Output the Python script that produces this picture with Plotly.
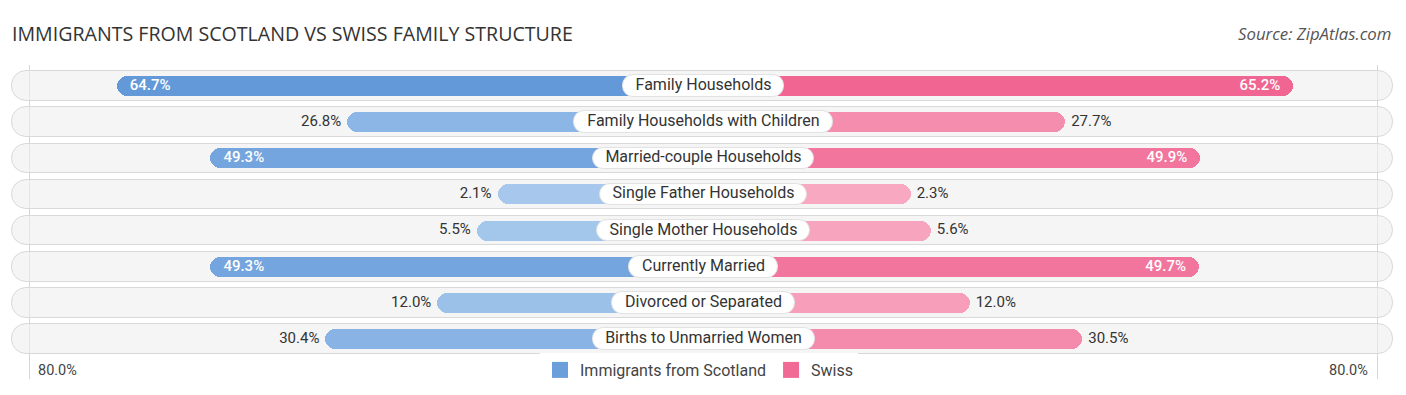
import plotly.graph_objects as go

categories = ["Family Households", "Family Households with Children", "Married-couple Households",
              "Single Father Households", "Single Mother Households", "Currently Married",
              "Divorced or Separated", "Births to Unmarried Women"]
scotland = [64.7, 26.8, 49.3, 2.1, 5.5, 49.3, 12.0, 30.4]
swiss = [65.2, 27.7, 49.9, 2.3, 5.6, 49.7, 12.0, 30.5]
series_names = ["Immigrants from Scotland", "Swiss"]
axis_max_label = "80.0%"

OFF = 8                      # page body margin of the html output
W, H = 1406 - 2 * OFF, 395 - 2 * OFF
CENTER_PX = 703.5 - OFF
PX_PER_UNIT = 6.083
O = 193.2 / PX_PER_UNIT          # half-width of the central label zone, in units
PITCH = 36.14
TOP_PX, BOT_PX = 65 - OFF, 379 - OFF
ROW0_PX = 86.07 - OFF
n = len(categories)
yr_top = -(ROW0_PX - TOP_PX) / PITCH
yr_bot = (n - 1) + (BOT_PX - (ROW0_PX + (n - 1) * PITCH)) / PITCH

def u(px):
    return px / PX_PER_UNIT

def py(px_from_top):  # reference pixel -> paper y
    return (BOT_PX - (px_from_top - OFF)) / (BOT_PX - TOP_PX)

def pxx(px):  # reference pixel -> paper x
    return (px - OFF) / W

def lerp_color(c0, c1, t):
    a = [int(c0[i:i + 2], 16) for i in (1, 3, 5)]
    b = [int(c1[i:i + 2], 16) for i in (1, 3, 5)]
    return "rgb(%d,%d,%d)" % tuple(round(a[k] + (b[k] - a[k]) * t) for k in range(3))

BLUE_LIGHT, BLUE_STRONG = "#a9caed", "#6399d9"
PINK_LIGHT, PINK_STRONG = "#f8abc3", "#f06592"
LEGEND_COLORS = ["#6a9fdc", "#f06a95"]

# Roboto advance widths (em)
WID = {' ': .248, '-': .276, '.': .263, '%': .732, 'A': .652, 'B': .623, 'C': .651, 'D': .656,
       'F': .554, 'H': .697, 'M': .872, 'S': .594, 'W': .866, 'U': .635,
       'a': .544, 'b': .561, 'c': .523, 'd': .563, 'e': .529, 'f': .347, 'g': .562, 'h': .551,
       'i': .243, 'j': .239, 'k': .506, 'l': .243, 'm': .876, 'n': .552, 'o': .570, 'p': .561,
       'q': .568, 'r': .338, 's': .516, 't': .327, 'u': .551, 'v': .484, 'w': .751, 'x': .496,
       'y': .473, 'z': .496}

def text_px(s, size):
    return sum(WID.get(ch, .56) for ch in s) * size

ys = list(range(n))
fig = go.Figure()

# background tracks
fig.add_trace(go.Bar(
    y=ys, x=[u(1381)] * n, base=[u(12 - 703.5)] * n, orientation="h",
    width=29.5 / PITCH, marker=dict(color="rgba(238,238,238,0.6)",
                                    line=dict(color="#d9d9d9", width=1), cornerradius="50%"),
    showlegend=False, hoverinfo="skip"))

# value bars
fig.add_trace(go.Bar(
    y=ys, x=[-(O + v) for v in scotland], base=[0] * n, orientation="h", width=20 / PITCH,
    name=series_names[0], showlegend=False,
    marker=dict(color=[lerp_color(BLUE_LIGHT, BLUE_STRONG, v / 65) for v in scotland],
                cornerradius="50%", line=dict(width=0)),
    hoverinfo="skip"))
fig.add_trace(go.Bar(
    y=ys, x=[(O + v) for v in swiss], base=[0] * n, orientation="h", width=20 / PITCH,
    name=series_names[1], showlegend=False,
    marker=dict(color=[lerp_color(PINK_LIGHT, PINK_STRONG, v / 65) for v in swiss],
                cornerradius="50%", line=dict(width=0)),
    hoverinfo="skip"))

# central label pills
pill_w = [u(text_px(c, 16) + 26) for c in categories]
fig.add_trace(go.Bar(
    y=ys, x=pill_w, base=[-w / 2 for w in pill_w], orientation="h", width=21.5 / PITCH,
    marker=dict(color="white", line=dict(color="#e2e2e2", width=1), cornerradius="50%"),
    showlegend=False, hoverinfo="skip"))
fig.add_trace(go.Scatter(
    y=ys, x=[0] * n, mode="text", text=categories, textposition="middle center",
    textfont=dict(family="Roboto", size=16, color="#333333"),
    showlegend=False, hoverinfo="skip"))

# value labels
INSIDE = 40
for vals, side in ((scotland, -1), (swiss, 1)):
    xin, tin, yin, xout, tout, yout = [], [], [], [], [], []
    for i, v in enumerate(vals):
        end = side * (O + v)
        if v >= INSIDE:
            xin.append(end - side * u(13)); tin.append(f"{v:.1f}%"); yin.append(i)
        else:
            xout.append(end + side * u(6)); tout.append(f"{v:.1f}%"); yout.append(i)
    fig.add_trace(go.Scatter(
        y=yin, x=xin, mode="text", text=tin,
        textposition="middle right" if side < 0 else "middle left",
        textfont=dict(family="Roboto", size=15, color="white", weight=500),
        showlegend=False, hoverinfo="skip"))
    fig.add_trace(go.Scatter(
        y=yout, x=xout, mode="text", text=tout,
        textposition="middle left" if side < 0 else "middle right",
        textfont=dict(family="Roboto", size=15, color="#333333"),
        showlegend=False, hoverinfo="skip"))

# legend entries
for name, col in zip(series_names, LEGEND_COLORS):
    fig.add_trace(go.Scatter(
        x=[None], y=[None], mode="markers", name=name,
        marker=dict(symbol="square", size=16, color=col), hoverinfo="skip"))

leg_y = py(370)
fig.add_annotation(x=pxx(57), y=leg_y, xref="paper", yref="paper", text=axis_max_label,
                   showarrow=False, font=dict(family="Roboto", size=14.5, color="#444444"),
                   xanchor="center", yanchor="middle")
fig.add_annotation(x=pxx(1348), y=leg_y, xref="paper", yref="paper", text=axis_max_label,
                   showarrow=False, font=dict(family="Roboto", size=14.5, color="#444444"),
                   xanchor="center", yanchor="middle")
fig.add_annotation(x=pxx(1393), y=py(34), xref="paper", yref="paper",
                   text="<i>Source: ZipAtlas.com</i>", showarrow=False,
                   font=dict(family="Open Sans", size=16.8, color="#555555"),
                   xanchor="right", yanchor="middle")

fig.update_layout(
    width=W, height=H, barmode="overlay", bargap=0,
    margin=dict(l=0, r=0, t=TOP_PX, b=H - BOT_PX),
    paper_bgcolor="white", plot_bgcolor="white",
    title=dict(text="IMMIGRANTS FROM SCOTLAND VS SWISS FAMILY STRUCTURE",
               x=pxx(12), xanchor="left", y=1 - (34 - OFF) / H, yanchor="middle",
               font=dict(family="Open Sans", size=19.6, color="#333333")),
    xaxis=dict(range=[u(-CENTER_PX), u(W - CENTER_PX)], showticklabels=False,
               tickvals=[-(O + 79), O + 79], showgrid=True, gridcolor="#d6d6d6", gridwidth=1,
               zeroline=False, fixedrange=True),
    yaxis=dict(range=[yr_bot, yr_top], showticklabels=False, showgrid=False, zeroline=False,
               fixedrange=True),
    legend=dict(orientation="h", x=pxx(699), xanchor="center", y=leg_y, yanchor="middle",
                font=dict(family="Roboto", size=16, color="#444444"), traceorder="normal",
                itemsizing="trace", itemwidth=30),
    showlegend=True,
)

fig.write_html("out.html")
